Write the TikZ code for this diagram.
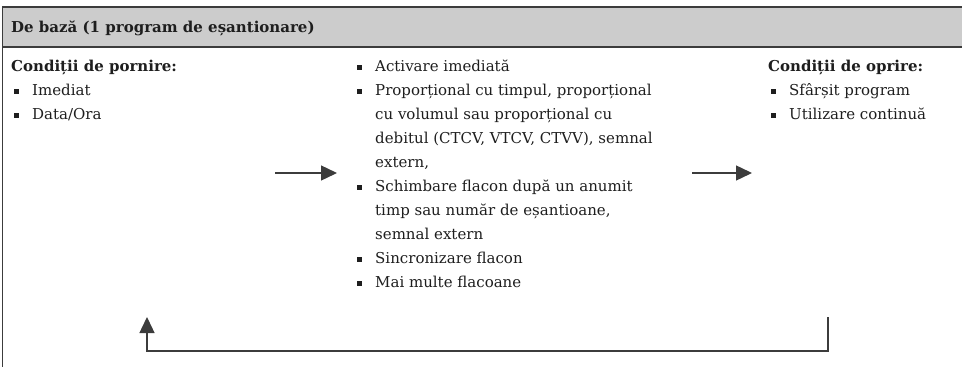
\documentclass[tikz,border=0pt]{standalone}
\usepackage{fontspec}
\setmainfont{DejaVu Serif}
\usetikzlibrary{arrows.meta}
\definecolor{headgray}{RGB}{204,204,204}
\definecolor{linegray}{RGB}{60,60,60}
\definecolor{textblack}{RGB}{30,30,30}
\newcommand{\bl}{\makebox[18pt][l]{\raisebox{1.5pt}{\rule{5pt}{5pt}}}}
\newcommand{\ind}{\hspace*{18pt}}

\begin{document}
\begin{tikzpicture}[
    x=1pt,
    y=-1pt,
    font=\fontsize{15}{24}\selectfont,
    txt/.style={anchor=base west, align=left, inner sep=0pt, text=textblack},
    frame/.style={draw=linegray, line width=1.6pt},
    flow/.style={draw=linegray, line width=1.4pt, -{Triangle[length=16pt,width=15pt]}}
  ]
  \useasboundingbox (0,0) rectangle (962,367);

  % --- header band and frame ---
  \fill[headgray] (2.5,7) rectangle (962,47);
  \draw[frame] (2.5,367) -- (2.5,7) -- (962,7);
  \draw[frame] (2.5,47) -- (962,47);
  \node[txt, font=\fontsize{15}{24}\selectfont\bfseries] (head) at (11,32) {De bază (1 program de eșantionare)};

  % --- three columns (base = baseline of the last line; first line sits at y=71) ---
  \node[txt] (startcol) at (11,119) {\textbf{Condiții de pornire:}\\
    \hspace*{3pt}\bl Imediat\\
    \hspace*{3pt}\bl Data/Ora};
  \node[txt] (actcol) at (357,287) {\bl Activare imediată\\
    \bl Proporțional cu timpul, proporțional\\
    \ind cu volumul sau proporțional cu\\
    \ind debitul (CTCV, VTCV, CTVV), semnal\\
    \ind extern,\\
    \bl Schimbare flacon după un anumit\\
    \ind timp sau număr de eșantioane,\\
    \ind semnal extern\\
    \bl Sincronizare flacon\\
    \bl Mai multe flacoane};
  \node[txt] (stopcol) at (768,119) {\textbf{Condiții de oprire:}\\
    \hspace*{3pt}\bl Sfârșit program\\
    \hspace*{3pt}\bl Utilizare continuă};

  % --- arrows ---
  \coordinate (a1from) at (275,173);
  \coordinate (a1to)   at (337,173);
  \draw[flow] (a1from) -- (a1to);
  \coordinate (a2from) at (692,173);
  \coordinate (a2to)   at (752,173);
  \draw[flow] (a2from) -- (a2to);

  % return loop back to the start
  \coordinate (loopfrom) at (828,317);
  \coordinate (loopto)   at (147,317);
  \draw[flow] (loopfrom) -- ++(0,34) -| (loopto);
\end{tikzpicture}
\end{document}
